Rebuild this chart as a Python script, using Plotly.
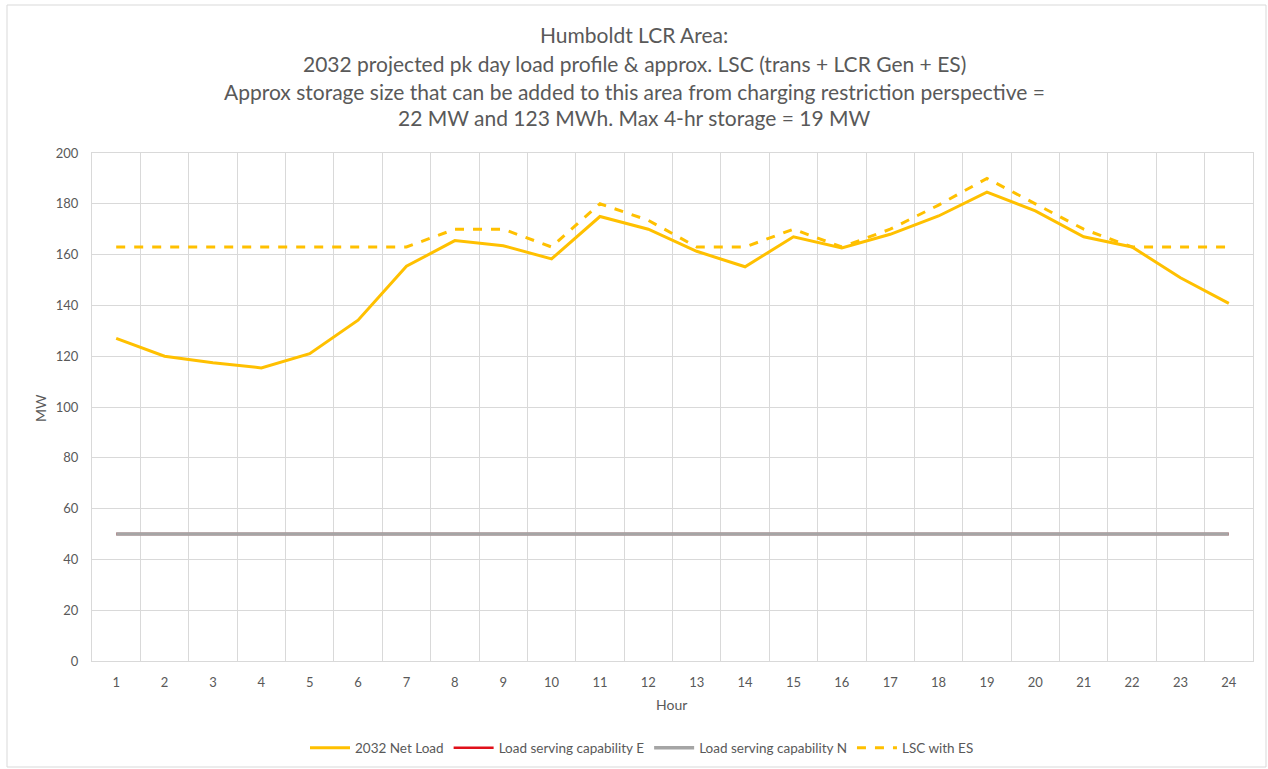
import plotly.graph_objects as go

hours = list(range(1, 25))
net_load = [127, 120, 117.4, 115.4, 121, 134.2, 155.4, 165.5, 163.5, 158.3, 175, 170,
            161.3, 155.2, 167, 162.6, 168, 175.2, 184.6, 177.2, 167, 163, 150.9, 140.8]
lsc_e = [50] * 24
lsc_n = [50] * 24
lsc_es = [163, 163, 163, 163, 163, 163, 163, 170, 170, 163, 180, 173.5,
          163, 163, 170, 163, 170, 179.5, 190, 180, 170, 163, 163, 163]

title_lines = [
    "Humboldt LCR Area:",
    "2032 projected pk day load profile &amp; approx. LSC (trans + LCR Gen + ES)",
    "Approx storage size that can be added to this area from charging restriction perspective =",
    "22 MW and 123 MWh. Max 4-hr storage = 19 MW",
]

YELLOW = "#FFC000"
RED = "#E0101A"
GRAY = "#A5A5A5"
TXT = "#595959"
GRID = "#D9D9D9"
FONT = "Lato"

# plot area pixel geometry
L, R, T, B = 92, 1253, 153, 661
W, H = 1268, 775


def xp(px):
    return (px - L) / (R - L)


def yp(py):
    return (B - py) / (B - T)


fig = go.Figure()
fig.add_trace(go.Scatter(x=hours, y=net_load, mode="lines", name="2032 Net Load",
                         line=dict(color=YELLOW, width=3)))
fig.add_trace(go.Scatter(x=hours, y=lsc_e, mode="lines", name="Load serving capability E",
                         line=dict(color=RED, width=2.4)))
fig.add_trace(go.Scatter(x=hours, y=lsc_n, mode="lines", name="Load serving capability N",
                         line=dict(color=GRAY, width=3.4)))
fig.add_trace(go.Scatter(x=hours, y=lsc_es, mode="lines", name="LSC with ES",
                         line=dict(color=YELLOW, width=3, dash="dash")))

annotations = []
for line, py in zip(title_lines, [35, 63, 91, 118]):
    annotations.append(dict(text=line, x=xp(634), y=yp(py), xref="paper", yref="paper",
                            showarrow=False, xanchor="center", yanchor="middle",
                            font=dict(family=FONT, size=21, color=TXT)))
annotations.append(dict(text="Hour", x=xp(671), y=yp(704), xref="paper", yref="paper",
                        showarrow=False, xanchor="center", yanchor="middle",
                        font=dict(family=FONT, size=14, color=TXT)))
annotations.append(dict(text="MW", x=xp(40), y=yp(408), xref="paper", yref="paper",
                        showarrow=False, xanchor="center", yanchor="middle", textangle=-90,
                        font=dict(family=FONT, size=14, color=TXT)))

fig.update_layout(
    width=W, height=H, autosize=False,
    margin=dict(l=L, r=W - R, t=T, b=H - B, pad=0),
    paper_bgcolor="white", plot_bgcolor="white",
    font=dict(family=FONT, size=13, color=TXT),
    showlegend=True,
    legend=dict(orientation="h", x=xp(642), xanchor="center", y=yp(748), yanchor="middle",
                font=dict(family=FONT, size=13.5, color=TXT), traceorder="normal",
                itemwidth=40),
    annotations=annotations,
    shapes=[dict(type="rect", xref="paper", yref="paper",
                 x0=xp(7), x1=xp(1266), y0=yp(5), y1=yp(767),
                 line=dict(color=GRID, width=1), layer="below")],
)

fig.update_xaxes(
    range=[0.5, 24.5], tickmode="array", tickvals=hours, ticktext=[str(h) for h in hours],
    showgrid=False, zeroline=False, showline=True, mirror=True, linecolor=GRID, linewidth=1,
    ticks="", tickfont=dict(family=FONT, size=13, color=TXT), ticklabelstandoff=9,
    minor=dict(showgrid=True, tick0=0.5, dtick=1, gridcolor=GRID, gridwidth=1),
)
fig.update_yaxes(
    range=[0, 200], tickmode="array", tickvals=list(range(0, 201, 20)),
    showgrid=True, gridcolor=GRID, gridwidth=1, zeroline=False,
    showline=True, mirror=True, linecolor=GRID, linewidth=1,
    ticks="", tickfont=dict(family=FONT, size=13, color=TXT), ticklabelstandoff=10,
)

fig.write_html("out.html",
               config={"displayModeBar": False, "responsive": False},
               post_script="document.body.style.margin='0';document.body.style.overflow='hidden';")
